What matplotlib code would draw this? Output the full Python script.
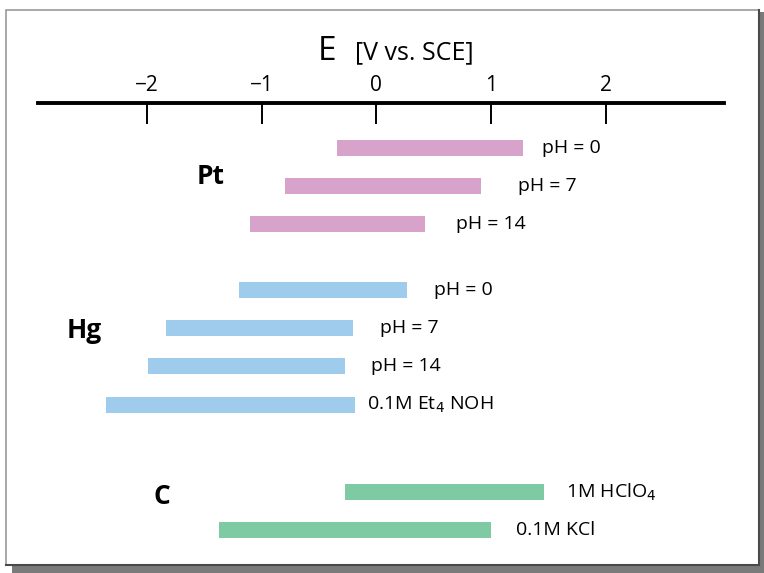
import matplotlib
matplotlib.use("Agg")
import matplotlib.pyplot as plt
from matplotlib.patches import Rectangle

# ---- data ----
groups = ["Pt", "Hg", "C"]
pt_labels = ["pH = 0", "pH = 7", "pH = 14"]
pt_low = [-0.34, -0.80, -1.10]
pt_high = [1.28, 0.91, 0.42]
hg_labels = ["pH = 0", "pH = 7", "pH = 14", "0.1M Et$_4$ NOH"]
hg_low = [-1.20, -1.83, -1.99, -2.36]
hg_high = [0.27, -0.20, -0.27, -0.19]
c_labels = ["1M HClO$_4$", "0.1M KCl"]
c_low = [-0.27, -1.37]
c_high = [1.46, 1.00]
xticks = [-2, -1, 0, 1, 2]
xtick_labels = ["\u22122", "\u22121", "0", "1", "2"]

W, H = 764, 573
fig = plt.figure(figsize=(W / 100, H / 100), dpi=100)
fig.patch.set_facecolor("white")
font = ["Open Sans", "DejaVu Sans"]

# background frame (pixel coordinates)
bg = fig.add_axes([0, 0, 1, 1])
bg.set_xlim(0, W)
bg.set_ylim(H, 0)
bg.axis("off")
bg.add_patch(Rectangle((12, 565), W - 12, 8, color="#7a7a7a", lw=0))
bg.add_patch(Rectangle((759, 12), 5, H - 12, color="#7a7a7a", lw=0))
bg.add_patch(Rectangle((6, 10), 753, 555, facecolor="white", edgecolor="#9a9a9a", lw=1.2))
bg.plot([6, 759], [565, 565], color="#4a4a4a", lw=1.5)
bg.plot([759, 759], [10, 565], color="#4a4a4a", lw=1.5)

# data axes: top edge at the axis line (y=103 px), bottom at 555 px
x0, x1 = 38, 724
ytop, ybot = 103, 555
ax = fig.add_axes([x0 / W, 1 - ybot / H, (x1 - x0) / W, (ybot - ytop) / H])
ax.set_xlim(-2.95, 3.03)
ax.set_ylim(ybot, ytop)
ax.patch.set_alpha(0)
for s in ["left", "right", "bottom"]:
    ax.spines[s].set_visible(False)
ax.spines["top"].set_linewidth(2.8)
ax.xaxis.tick_top()
ax.set_xticks(xticks)
ax.set_xticklabels(xtick_labels, fontsize=15, family=font)
ax.tick_params(axis="x", direction="in", length=15, width=1.4, pad=5,
               top=True, bottom=False, labeltop=True, labelbottom=False)
ax.set_yticks([])

# title
fig.text(327 / W, 1 - 51 / H, "E", fontsize=24, family=font, ha="center", va="center")
fig.text(355 / W, 1 - 53 / H, "[V vs. SCE]", fontsize=18, family=font, ha="left", va="center")

bar_h = 16
colors = {"Pt": "#d7a3ca", "Hg": "#9fcbec", "C": "#7ecba3"}
sets = [
    ("Pt", pt_labels, pt_low, pt_high, [148, 186, 224], [19, 37, 31], (211, 176)),
    ("Hg", hg_labels, hg_low, hg_high, [290, 328, 366, 405], [27, 27, 26, 12], (84, 331)),
    ("C", c_labels, c_low, c_high, [492, 530], [22, 25], (162, 497)),
]
px_per_unit = (x1 - x0) / (3.03 + 2.95)
for name, labels, lows, highs, ys, offs, gpos in sets:
    widths = [h - l for l, h in zip(lows, highs)]
    ax.barh(ys, widths, left=lows, height=bar_h, color=colors[name], lw=0)
    for lab, hi, y, off in zip(labels, highs, ys, offs):
        ax.text(hi + off / px_per_unit, y, lab, fontsize=14, family=font,
                ha="left", va="center")
    fig.text(gpos[0] / W, 1 - gpos[1] / H, name, fontsize=19, fontweight="bold",
             family=font, ha="center", va="center")

fig.savefig("out.png", dpi=100, facecolor="white")
